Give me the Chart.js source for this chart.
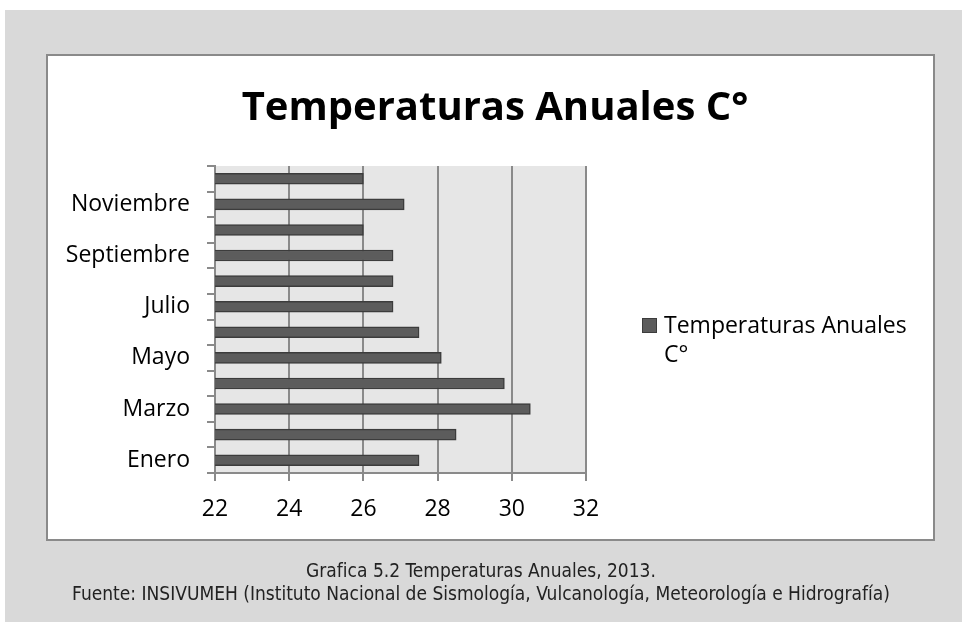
<!DOCTYPE html>
<html lang="es">
<head>
<meta charset="utf-8">
<title>Temperaturas Anuales C°</title>
<script src="https://cdn.jsdelivr.net/npm/chart.js@4.4.1/dist/chart.umd.min.js"></script>
<style>
  html, body { margin: 0; padding: 0; background: #ffffff; }
  body { width: 962px; height: 622px; position: relative; overflow: hidden; }
  #page { position: absolute; left: 5px; top: 10px; right: 0; bottom: 0; background: #d9d9d9; }
  #frame { position: absolute; left: 46px; top: 54px; width: 885px; height: 483px;
           background: #ffffff; border: 2px solid #8a8a8a; }
  #chart { position: absolute; left: 0; top: 0; }
  .caption { position: absolute; left: 0; width: 962px; text-align: center; color: #222;
             font-family: "Liberation Sans Narrow", "Arial Narrow", "DejaVu Sans Condensed", sans-serif;
             font-size: 19px; line-height: 22px; }
  #cap1 { top: 559px; }
  #cap2 { top: 582px; }
</style>
</head>
<body>
<div id="page"></div>
<div id="frame"></div>
<canvas id="chart" width="962" height="622"></canvas>
<div class="caption" id="cap1">Grafica 5.2 Temperaturas Anuales, 2013.</div>
<div class="caption" id="cap2">Fuente: INSIVUMEH (Instituto Nacional de Sismología, Vulcanología, Meteorología e Hidrografía)</div>

<script>
// Monthly mean temperatures, 2013
const months = ['Enero', 'Febrero', 'Marzo', 'Abril', 'Mayo', 'Junio',
                'Julio', 'Agosto', 'Septiembre', 'Octubre', 'Noviembre', 'Diciembre'];
const temperatures = [27.5, 28.5, 30.5, 29.8, 28.1, 27.5, 26.8, 26.8, 26.8, 26.0, 27.1, 26.0];
const seriesName = 'Temperaturas Anuales C°';
const legendLines = ['Temperaturas Anuales', 'C°'];
const xTicks = [22, 24, 26, 28, 30, 32];

const barFill = '#5c5c5c';
const barEdge = '#3c3c3c';
const axisGrey = '#8a8a8a';
const labelFont = { family: '"Open Sans", sans-serif', size: 23 };

// Light grey panel behind the plot area
const plotBackground = {
  id: 'plotBackground',
  beforeDraw(chart) {
    const { ctx, chartArea: a } = chart;
    ctx.save();
    ctx.fillStyle = '#e6e6e6';
    ctx.fillRect(a.left, a.top, a.right - a.left, a.bottom - a.top);
    ctx.restore();
  }
};

// Legend to the right of the plot, wrapped over two lines
const sideLegend = {
  id: 'sideLegend',
  afterDraw(chart) {
    const { ctx, chartArea: a } = chart;
    const ds = chart.data.datasets[0];
    const x = a.right + 56;
    const y = a.top + 152;
    ctx.save();
    ctx.fillStyle = ds.backgroundColor;
    ctx.strokeStyle = ds.borderColor;
    ctx.lineWidth = 1;
    ctx.fillRect(x, y, 15, 15);
    ctx.strokeRect(x + 0.5, y + 0.5, 14, 14);
    ctx.fillStyle = '#000000';
    ctx.font = `${labelFont.size}px ${labelFont.family}`;
    ctx.textBaseline = 'middle';
    ctx.textAlign = 'left';
    legendLines.forEach((line, i) => ctx.fillText(line, x + 22, y + 8 + i * 29));
    ctx.restore();
  }
};

new Chart(document.getElementById('chart'), {
  type: 'bar',
  data: {
    labels: months,
    datasets: [{
      label: seriesName,
      data: temperatures,
      backgroundColor: barFill,
      borderColor: barEdge,
      borderWidth: 1.5,
      borderSkipped: false,
      barThickness: 11
    }]
  },
  options: {
    indexAxis: 'y',
    responsive: false,
    animation: false,
    layout: { padding: { left: 28, right: 0, top: 0, bottom: 0 } },
    plugins: {
      legend: { display: false },
      tooltip: { enabled: false },
      title: {
        display: true,
        text: seriesName,
        color: '#000000',
        font: { family: '"Open Sans", sans-serif', size: 40, weight: 'bold', lineHeight: 1.2 },
        padding: { top: 85, bottom: 33 }
      }
    },
    scales: {
      x: {
        min: 22,
        max: 32,
        afterBuildTicks: s => { s.ticks = xTicks.map(v => ({ value: v })); },
        grid: { color: axisGrey, lineWidth: 2, tickLength: 8, drawTicks: true },
        border: { color: axisGrey, width: 2 },
        ticks: { color: '#000000', font: labelFont, padding: 15 },
        afterFit: s => { s.height = 149; }
      },
      y: {
        reverse: true,
        grid: { drawOnChartArea: false, color: axisGrey, lineWidth: 2, tickLength: 8 },
        border: { color: axisGrey, width: 2 },
        ticks: {
          color: '#000000',
          font: labelFont,
          padding: 17,
          autoSkip: false,
          callback: (v, i) => (i % 2 === 0 ? months[i] : '')
        },
        afterFit: s => { s.width = 187; }
      },
      side: {
        type: 'linear',
        position: 'right',
        display: true,
        grid: { display: false },
        border: { display: false },
        ticks: { display: false },
        afterFit: s => { s.width = 376; }
      }
    }
  },
  plugins: [plotBackground, sideLegend]
});
</script>
</body>
</html>
